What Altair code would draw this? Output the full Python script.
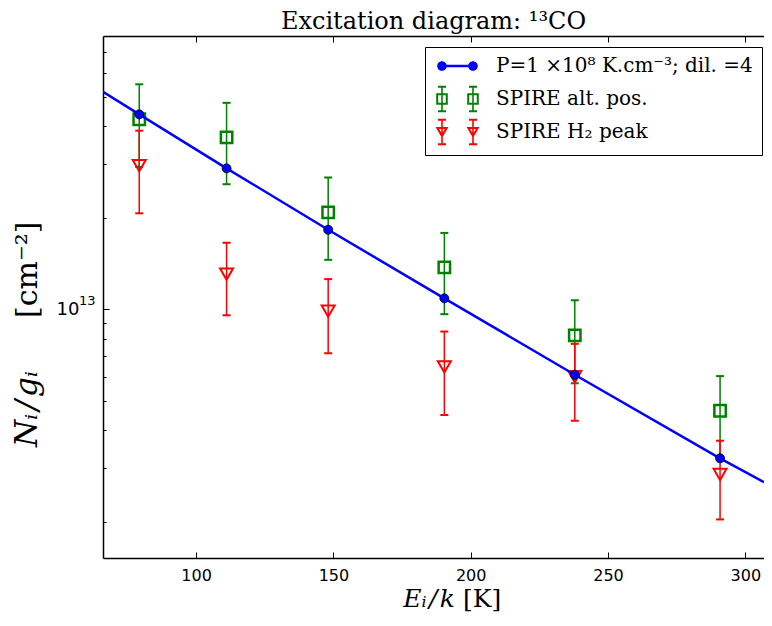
import altair as alt
import pandas as pd

# ---------------- data ----------------
E_up = [79.3, 111.1, 148.1, 190.4, 237.9, 290.8]            # E_i/k [K]
model_N = [4.38e13, 2.91e13, 1.827e13, 1.087e13, 6.09e12, 3.235e12]
line_E = [66.1, 79.3, 111.1, 148.1, 190.4, 237.9, 290.8, 306.8]
line_N = [5.20e13, 4.38e13, 2.91e13, 1.827e13, 1.087e13, 6.09e12, 3.235e12, 2.70e12]
alt_N = [4.22e13, 3.68e13, 2.085e13, 1.374e13, 8.21e12, 4.64e12]
alt_err = [1.28e13, 1.10e13, 6.3e12, 4.1e12, 2.5e12, 1.39e12]
h2_N = [2.97e13, 1.306e13, 9.87e12, 6.47e12, 6.00e12, 2.866e12]
h2_err = [9.0e12, 3.5e12, 2.7e12, 1.98e12, 1.70e12, 8.3e11]

series_labels = ["P=1 ×10⁸ K.cm⁻³; dil. =4", "SPIRE alt. pos.", "SPIRE H₂ peak"]
series_colors = ["#0000ff", "#008000", "#ff0000"]
x_ticks = [100, 150, 200, 250, 300]
y_major = [1e13]
y_major_exp = ["13"]
y_minor = [2e12, 3e12, 4e12, 5e12, 6e12, 7e12, 8e12, 9e12,
           2e13, 3e13, 4e13, 5e13, 6e13, 7e13]
x_domain = [66.1, 306.8]
y_domain = [1.52e12, 7.93e13]

# ---------------- layout ----------------
W, H = 661, 522
SERIF = "DejaVu Serif"
SANS = "DejaVu Sans"
HAIR = "\u200a"

model_df = pd.DataFrame({"E": E_up, "N": model_N})
line_df = pd.DataFrame({"E": line_E, "N": line_N})
alt_df = pd.DataFrame({"E": E_up, "N": alt_N,
                       "lo": [n - e for n, e in zip(alt_N, alt_err)],
                       "hi": [n + e for n, e in zip(alt_N, alt_err)]})
h2_df = pd.DataFrame({"E": E_up, "N": h2_N,
                      "lo": [n - e for n, e in zip(h2_N, h2_err)],
                      "hi": [n + e for n, e in zip(h2_N, h2_err)]})
legend_df = pd.DataFrame({"series": series_labels,
                          "E": [E_up[0]] * 3, "N": [model_N[0]] * 3})
exp_df = pd.DataFrame({"N": y_major, "t": y_major_exp})

xs = alt.Scale(type="linear", domain=x_domain, nice=False, zero=False)
ys = alt.Scale(type="log", domain=y_domain, nice=False)

common = dict(grid=False, title=None, labelFlush=False, labelOverlap=False,
              tickColor="black", domainColor="black")
ax_x_main = alt.Axis(orient="bottom", values=x_ticks, ticks=False, domain=True,
                     domainWidth=1.5, labelFont=SANS, labelFontSize=16,
                     labelColor="black", labelPadding=9, **common)
ax_x_inb = alt.Axis(orient="top", offset=-H, values=x_ticks, labels=False,
                    ticks=True, tickSize=6, tickWidth=1, domain=False, **common)
ax_x_top = alt.Axis(orient="bottom", offset=-H, values=x_ticks, labels=False,
                    ticks=True, tickSize=6, tickWidth=1, domain=True,
                    domainWidth=1.5, **common)
ax_y_main = alt.Axis(orient="left", values=y_major, labelExpr="'10'",
                     ticks=False, domain=True, domainWidth=1.5, labelFont=SANS,
                     labelFontSize=18, labelColor="black", labelPadding=24,
                     **common)
ax_y_maj = alt.Axis(orient="right", offset=-W, values=y_major, labels=False,
                    ticks=True, tickSize=6, tickWidth=1, domain=False, **common)
ax_y_min = alt.Axis(orient="right", offset=-W, values=y_minor, labels=False,
                    ticks=True, tickSize=3, tickWidth=1, domain=False, **common)


def ex(axis=None):
    return alt.X("E:Q", scale=xs, axis=axis)


def ey(field, axis=None):
    return alt.Y(field + ":Q", scale=ys, axis=axis)


# ---------------- legend symbols (paths in unit space, 4 px / unit) ----------------
def rect(x0, y0, x1, y1):
    return f"M{x0},{y0}L{x1},{y0}L{x1},{y1}L{x0},{y1}Z"


def rect_ccw(x0, y0, x1, y1):
    return f"M{x0},{y0}L{x0},{y1}L{x1},{y1}L{x1},{y0}Z"


def circle(cx, r):
    return f"M{cx - r},0A{r},{r} 0 1,1 {cx + r},0A{r},{r} 0 1,1 {cx - r},0Z"


def errbar(cx):
    return (rect(cx - 0.2, -3.3, cx + 0.2, 3.3)
            + rect(cx - 1.0, -3.3, cx + 1.0, -2.8)
            + rect(cx - 1.0, 2.8, cx + 1.0, 3.3))


A1, A2 = -0.5, 7.25
# the two bare move-to points give this row the same height as the others
p_model = (rect(A1, -0.3, A2, 0.3) + circle(A1, 1.2) + circle(A2, 1.2)
           + f"M{A1},-3.3M{A1},3.3")
p_alt = ""
p_h2 = ""
for a in (A1, A2):
    p_alt += rect(a - 1.45, -1.45, a + 1.45, 1.45) + rect_ccw(a - 0.95, -0.95, a + 0.95, 0.95) + errbar(a)
    p_h2 += (f"M{a - 1.6},-1.25L{a + 1.6},-1.25L{a},1.5Z"
             f"M{a - 0.73},-0.75L{a},0.506L{a + 0.73},-0.75Z" + errbar(a))
series_paths = [p_model, p_alt, p_h2]

leg = alt.Legend(title=None, orient="none", legendX=322, legendY=11,
                 fillColor="white", strokeColor="black", padding=9,
                 labelFont=SERIF, labelFontSize=20, labelColor="black",
                 labelLimit=400, symbolSize=64, symbolStrokeWidth=0,
                 symbolOpacity=1, labelOffset=42, rowPadding=5, cornerRadius=0)

# ---------------- layers ----------------
g_rule = alt.Chart(alt_df).mark_rule(color="#008000", strokeWidth=1.5).encode(
    x=ex(ax_x_main), y=ey("lo", ax_y_main), y2="hi:Q")
g_lo = alt.Chart(alt_df).mark_tick(orient="horizontal", size=8, thickness=2,
                                   color="#008000", opacity=1).encode(
    x=ex(ax_x_inb), y=ey("lo", ax_y_maj))
g_hi = alt.Chart(alt_df).mark_tick(orient="horizontal", size=8, thickness=2,
                                   color="#008000", opacity=1).encode(
    x=ex(ax_x_top), y=ey("hi", ax_y_min))
g_pt = alt.Chart(alt_df).mark_point(shape="square", filled=False, size=130,
                                    strokeWidth=2.5, color="#008000",
                                    opacity=1).encode(x=ex(), y=ey("N"))

r_rule = alt.Chart(h2_df).mark_rule(color="#ff0000", strokeWidth=1.5).encode(
    x=ex(), y=ey("lo"), y2="hi:Q")
r_lo = alt.Chart(h2_df).mark_tick(orient="horizontal", size=8, thickness=2,
                                  color="#ff0000", opacity=1).encode(
    x=ex(), y=ey("lo"))
r_hi = alt.Chart(h2_df).mark_tick(orient="horizontal", size=8, thickness=2,
                                  color="#ff0000", opacity=1).encode(
    x=ex(), y=ey("hi"))
r_pt = alt.Chart(h2_df).mark_point(shape="triangle-down", filled=False,
                                   size=170, strokeWidth=2, color="#ff0000",
                                   opacity=1).encode(x=ex(), y=ey("N"))

b_line = alt.Chart(line_df).mark_line(color="#0000ff", strokeWidth=2.5,
                                      clip=True).encode(x=ex(), y=ey("N"))
b_pt = alt.Chart(model_df).mark_circle(size=81, color="#0000ff", opacity=1,
                                       stroke="black", strokeWidth=0.8).encode(
    x=ex(), y=ey("N"))

legend_layer = alt.Chart(legend_df).mark_point(filled=True, opacity=0).encode(
    x=ex(), y=ey("N"),
    color=alt.Color("series:N", scale=alt.Scale(domain=series_labels,
                                                range=series_colors), legend=leg),
    shape=alt.Shape("series:N", scale=alt.Scale(domain=series_labels,
                                                range=series_paths), legend=leg),
)

# superscript exponent of the y tick label (10^13)
exp_layer = alt.Chart(exp_df).mark_text(
    font=SANS, fontSize=13, align="left", baseline="middle", dy=-8,
    color="black").encode(x=alt.value(-24), y=ey("N"), text="t:N")


def txt(text, x, y, angle=0, style="normal", align="left", size=28,
        baseline="middle"):
    return alt.Chart(pd.DataFrame({"t": [text]})).mark_text(
        font=SERIF, fontSize=size, fontStyle=style, align=align,
        baseline=baseline, angle=angle, color="black").encode(
        x=alt.value(x), y=alt.value(y), text="t:N")


xt1 = txt("Eᵢ" + HAIR + "/" + HAIR + "k", 352, 563, style="italic",
          align="right", size=25)
xt2 = txt("[K]", 360, 563, size=25)
yt1 = txt("Nᵢ" + HAIR + "/" + HAIR + "gᵢ", -75, 411, angle=270, style="italic",
          align="left", size=31)
yt2 = txt("[cm⁻²]", -75, 282, angle=270, align="left", size=30)

chart = alt.layer(
    g_rule, g_lo, g_hi, g_pt, r_rule, r_lo, r_hi, r_pt, b_line, b_pt,
    legend_layer, exp_layer, xt1, xt2, yt1, yt2
).resolve_axis(x="independent", y="independent").properties(
    width=W, height=H,
    padding={"left": 95, "top": 28, "right": 0, "bottom": 54},
    autosize=alt.AutoSizeParams(type="none"),
    title=alt.TitleParams(text="Excitation diagram:    ¹³CO", font=SERIF,
                          fontSize=24, fontWeight="normal", color="black",
                          anchor="middle", offset=2),
).configure_view(stroke=None).configure(background="white")

chart.save("out.html", embed_options={"renderer": "svg", "actions": False})
